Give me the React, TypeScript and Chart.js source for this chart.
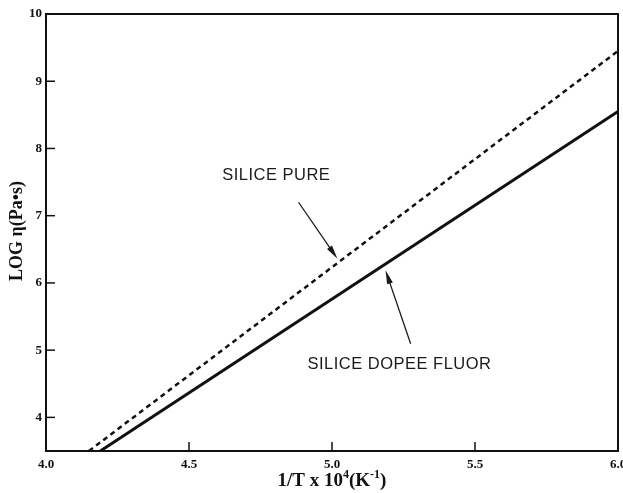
import React, { useEffect, useRef } from "react";
import { Chart, registerables } from "chart.js";

Chart.register(...registerables);

// Viscosity lines: log10(eta) versus reciprocal temperature
const pureX = [4.15, 6.0];
const pureY = [3.5, 9.45];
const dopedX = [4.19, 6.0];
const dopedY = [3.5, 8.55];

const xTicks = [4.0, 4.5, 5.0, 5.5, 6.0];
const xTickLabels = ["4.0", "4.5", "5.0", "5.5", "6.0"];
const yTicks = [4, 5, 6, 7, 8, 9, 10];
const yTickLabels = ["4", "5", "6", "7", "8", "9", "10"];

// Annotation labels with their arrows (data coordinates)
const labelTexts = ["SILICE PURE", "SILICE DOPEE FLUOR"];
const labelX = [4.616, 4.914];
const labelY = [7.6, 4.785];
const arrowFromX = [4.883, 5.275];
const arrowFromY = [7.2, 5.096];
const arrowToX = [5.019, 5.187];
const arrowToY = [6.36, 6.19];

const SERIF = "'Liberation Serif', 'Times New Roman', serif";
const SANS = "'Liberation Sans', Arial, sans-serif";

const framePlugin = {
  id: "frameAndNotes",
  afterDatasetsDraw(chart: any) {
    const { ctx, chartArea: a, scales } = chart;
    const xs = scales.x;
    const ys = scales.y;
    ctx.save();
    ctx.strokeStyle = "#111";
    ctx.fillStyle = "#111";

    // frame
    ctx.lineWidth = 2;
    ctx.strokeRect(a.left, a.top, a.right - a.left, a.bottom - a.top);

    // inward ticks
    ctx.lineWidth = 1.5;
    yTicks.forEach((v) => {
      const py = ys.getPixelForValue(v);
      ctx.beginPath();
      ctx.moveTo(a.left, py);
      ctx.lineTo(a.left + 9, py);
      ctx.stroke();
    });
    xTicks.forEach((v) => {
      const px = xs.getPixelForValue(v);
      ctx.beginPath();
      ctx.moveTo(px, a.bottom);
      ctx.lineTo(px, a.bottom - 9);
      ctx.stroke();
    });

    // tick labels
    ctx.font = `bold 13px ${SERIF}`;
    ctx.textAlign = "right";
    ctx.textBaseline = "middle";
    yTicks.forEach((v, i) => {
      ctx.fillText(yTickLabels[i], a.left - 4, ys.getPixelForValue(v));
    });
    ctx.textAlign = "center";
    ctx.textBaseline = "top";
    xTicks.forEach((v, i) => {
      ctx.fillText(xTickLabels[i], xs.getPixelForValue(v), a.bottom + 7);
    });

    // x axis title with superscripts
    const cx = (a.left + a.right) / 2;
    const base = a.bottom + 35;
    const big = `bold 19px ${SERIF}`;
    const small = `bold 12px ${SERIF}`;
    const parts: [string, boolean][] = [
      ["1/T x 10", false],
      ["4", true],
      ["(K", false],
      ["-1", true],
      [")", false],
    ];
    let total = 0;
    parts.forEach(([t, sup]) => {
      ctx.font = sup ? small : big;
      total += ctx.measureText(t).width;
    });
    let x0 = cx - total / 2;
    ctx.textAlign = "left";
    ctx.textBaseline = "alphabetic";
    parts.forEach(([t, sup]) => {
      ctx.font = sup ? small : big;
      ctx.fillText(t, x0, sup ? base - 8 : base);
      x0 += ctx.measureText(t).width;
    });

    // y axis title
    ctx.save();
    ctx.translate(17, 231);
    ctx.rotate(-Math.PI / 2);
    ctx.font = `bold 18px ${SERIF}`;
    ctx.textAlign = "center";
    ctx.textBaseline = "middle";
    ctx.fillText("LOG \u03b7(Pa\u2022s)", 0, 0);
    ctx.restore();

    // annotations
    ctx.font = `16.5px ${SANS}`;
    (ctx as any).letterSpacing = "0.5px";
    ctx.fillStyle = "#1a1a1a";
    ctx.textAlign = "left";
    ctx.textBaseline = "middle";
    labelTexts.forEach((t, i) => {
      ctx.fillText(t, xs.getPixelForValue(labelX[i]), ys.getPixelForValue(labelY[i]));
    });
    (ctx as any).letterSpacing = "0px";

    ctx.lineWidth = 1.3;
    ctx.strokeStyle = "#1a1a1a";
    arrowFromX.forEach((_, i) => {
      const x1 = xs.getPixelForValue(arrowFromX[i]);
      const y1 = ys.getPixelForValue(arrowFromY[i]);
      const x2 = xs.getPixelForValue(arrowToX[i]);
      const y2 = ys.getPixelForValue(arrowToY[i]);
      const ang = Math.atan2(y2 - y1, x2 - x1);
      const hl = 14;
      const hw = 3;
      ctx.beginPath();
      ctx.moveTo(x1, y1);
      ctx.lineTo(x2 - Math.cos(ang) * hl * 0.6, y2 - Math.sin(ang) * hl * 0.6);
      ctx.stroke();
      ctx.beginPath();
      ctx.moveTo(x2, y2);
      ctx.lineTo(
        x2 - Math.cos(ang) * hl - Math.sin(ang) * hw,
        y2 - Math.sin(ang) * hl + Math.cos(ang) * hw
      );
      ctx.lineTo(
        x2 - Math.cos(ang) * hl + Math.sin(ang) * hw,
        y2 - Math.sin(ang) * hl - Math.cos(ang) * hw
      );
      ctx.closePath();
      ctx.fill();
    });

    ctx.restore();
  },
};

export default function App() {
  const ref = useRef<HTMLCanvasElement>(null);

  useEffect(() => {
    document.body.style.margin = "0";
    const canvas = ref.current;
    if (!canvas) return;
    const chart = new Chart(canvas, {
      type: "scatter",
      data: {
        datasets: [
          {
            label: "SILICE PURE",
            data: pureX.map((x, i) => ({ x, y: pureY[i] })),
            showLine: true,
            borderColor: "#111",
            borderWidth: 2.5,
            borderDash: [5, 4],
            pointRadius: 0,
          },
          {
            label: "SILICE DOPEE FLUOR",
            data: dopedX.map((x, i) => ({ x, y: dopedY[i] })),
            showLine: true,
            borderColor: "#111",
            borderWidth: 3,
            pointRadius: 0,
          },
        ],
      },
      options: {
        animation: false,
        responsive: false,
        devicePixelRatio: 1,
        layout: { padding: { left: 46, top: 14, right: 5, bottom: 42 } },
        plugins: { legend: { display: false }, tooltip: { enabled: false } },
        scales: {
          x: { type: "linear", min: 4.0, max: 6.0, display: false },
          y: { type: "linear", min: 3.5, max: 10, display: false },
        },
      },
      plugins: [framePlugin],
    });
    return () => chart.destroy();
  }, []);

  return (
    <div style={{ width: 623, height: 493, background: "#fff" }}>
      <canvas ref={ref} width={623} height={493} />
    </div>
  );
}
